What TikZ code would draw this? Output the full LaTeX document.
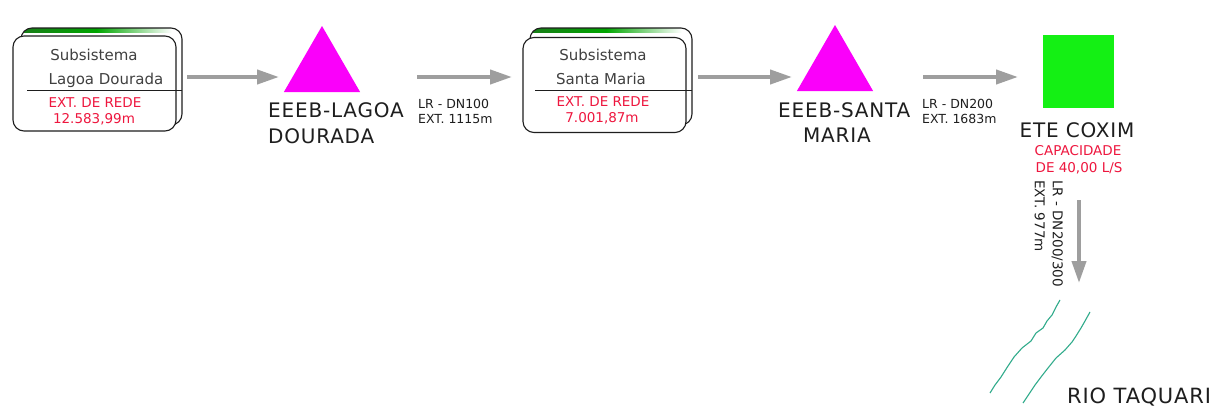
\documentclass[tikz,border=0pt]{standalone}
\usepackage{fontspec}
\setmainfont{DejaVu Sans}
\newfontfamily\widefont[LetterSpace=4]{DejaVu Sans}
\usetikzlibrary{arrows.meta,shapes.geometric}
\definecolor{mag}{RGB}{250,0,250}
\definecolor{limeg}{RGB}{20,240,20}
\definecolor{redt}{RGB}{238,22,62}
\definecolor{flowgray}{RGB}{158,158,158}
\definecolor{river}{RGB}{50,172,140}
\definecolor{boxgreen}{RGB}{25,125,25}
\definecolor{txt}{RGB}{30,30,30}
\tikzset{
  flow/.style={draw=flowgray, line width=4, -{Triangle[length=22,width=14]}},
  backbox/.style={draw=txt, line width=1.1, rounded corners=11},
  frontbox/.style={draw=txt, fill=white, line width=1.1, rounded corners=11, minimum width=163, minimum height=95, inner sep=0},
  divider/.style={draw=txt, line width=0.9},
  boxtxt/.style={text=txt!85, font={\fontsize{15}{17}\selectfont}, inner sep=0, anchor=base},
  redtxt/.style={text=redt, font={\fontsize{13.5}{15}\selectfont}, inner sep=0, anchor=base},
  bigtxt/.style={text=txt, font={\widefont\fontsize{20}{22}\selectfont}, inner sep=0, anchor=base west},
  smalltxt/.style={text=txt, font={\fontsize{12.5}{14}\selectfont}, inner sep=0, anchor=base west},
  tri/.style={regular polygon, regular polygon sides=3, minimum size=88, inner sep=0, fill=mag},
  rivline/.style={draw=river, line width=1.1, line join=round},
}
\begin{document}
\begin{tikzpicture}[x=1pt,y=-1pt]
\useasboundingbox[fill=white] (0,0) rectangle (1216,407);

% ---- Subsistema Lagoa Dourada
\begin{scope}
  \clip[rounded corners=11] (21,28) rectangle (182,125);
  \shade[left color=boxgreen, right color=white, middle color=green!65!black] (21,26) rectangle (172,32.5);
\end{scope}
\draw[backbox] (21,28) rectangle (182,125);
\node[frontbox] (box1) at (94.5,83.5) {};
\draw[divider] (27,90) -- (182,90);
\node[boxtxt] (b1t1) at (94,60) {Subsistema};
\node[boxtxt] (b1t2) at (106,84) {Lagoa Dourada};
\node[redtxt] (b1t3) at (95,107) {EXT. DE REDE};
\node[redtxt] (b1t4) at (94,123) {12.583,99m};

% ---- EEEB Lagoa
\node[tri] (tri1) at (322,70) {};
\node[bigtxt] (l1a) at (268,117) {EEEB-LAGOA};
\node[bigtxt] (l1b) at (268,143) {DOURADA};

% ---- pipe 1
\node[smalltxt] (p1a) at (418,108) {LR - DN100};
\node[smalltxt] (p1b) at (418,123) {EXT. 1115m};

% ---- Subsistema Santa Maria
\begin{scope}
  \clip[rounded corners=11] (530,28) rectangle (692,125);
  \shade[left color=boxgreen, right color=white, middle color=green!65!black] (530,26) rectangle (682,32.5);
\end{scope}
\draw[backbox] (530,28) rectangle (692,125);
\node[frontbox] (box2) at (604.5,85) {};
\draw[divider] (535,90) -- (692,90);
\node[boxtxt] (b2t1) at (603,60) {Subsistema};
\node[boxtxt] (b2t2) at (601,84) {Santa Maria};
\node[redtxt] (b2t3) at (603,106) {EXT. DE REDE};
\node[redtxt] (b2t4) at (602,122) {7.001,87m};

% ---- EEEB Santa Maria
\node[tri] (tri2) at (835,69) {};
\node[bigtxt] (l2a) at (778,117) {EEEB-SANTA};
\node[bigtxt, anchor=base] (l2b) at (837,142) {MARIA};

% ---- pipe 2
\node[smalltxt] (p2a) at (922,108) {LR - DN200};
\node[smalltxt] (p2b) at (922,123) {EXT. 1683m};

% ---- ETE Coxim
\node[fill=limeg, minimum width=71, minimum height=73, inner sep=0] (ete) at (1078.5,71.5) {};
\node[bigtxt, anchor=base] (etet) at (1077,137) {ETE COXIM};
\node[redtxt] (etec1) at (1078,155) {CAPACIDADE};
\node[redtxt] (etec2) at (1079,172) {DE 40,00 L/S};

% ---- outfall label
\node[text=txt, font={\fontsize{13.5}{18}\selectfont}, rotate=-90, anchor=north west, align=left, inner sep=0] (p3) at (1063,180) {LR - DN200/300\\EXT. 977m};

% ---- river
\draw[rivline] (1060,300) -- (1056,307) -- (1052,315) -- (1047,321) -- (1043,328) -- (1036,333) -- (1031,341) -- (1022,348) -- (1014,357) -- (1008,366) -- (1001,377) -- (995,385) -- (990,393);
\draw[rivline] (1090,312) -- (1085,321) -- (1081,328) -- (1076,336) -- (1072,342) -- (1065,350) -- (1056,358) -- (1048,368) -- (1041,377) -- (1035,385) -- (1029,394) -- (1023,403);
\node[bigtxt, font={\widefont\fontsize{21}{23}\selectfont}] (rio) at (1067,403) {RIO TAQUARI};

% ---- flow arrows
\coordinate (a1s) at (187,77);  \coordinate (a1e) at (279,77);
\coordinate (a2s) at (417,77);  \coordinate (a2e) at (512,77);
\coordinate (a3s) at (698,77);  \coordinate (a3e) at (792,77);
\coordinate (a4s) at (923,77);  \coordinate (a4e) at (1018,77);
\coordinate (a5s) at (1079,200); \coordinate (a5e) at (1079,283);
\draw[flow] (a1s) -- (a1e);
\draw[flow] (a2s) -- (a2e);
\draw[flow] (a3s) -- (a3e);
\draw[flow] (a4s) -- (a4e);
\draw[flow] (a5s) -- (a5e);
\end{tikzpicture}
\end{document}
